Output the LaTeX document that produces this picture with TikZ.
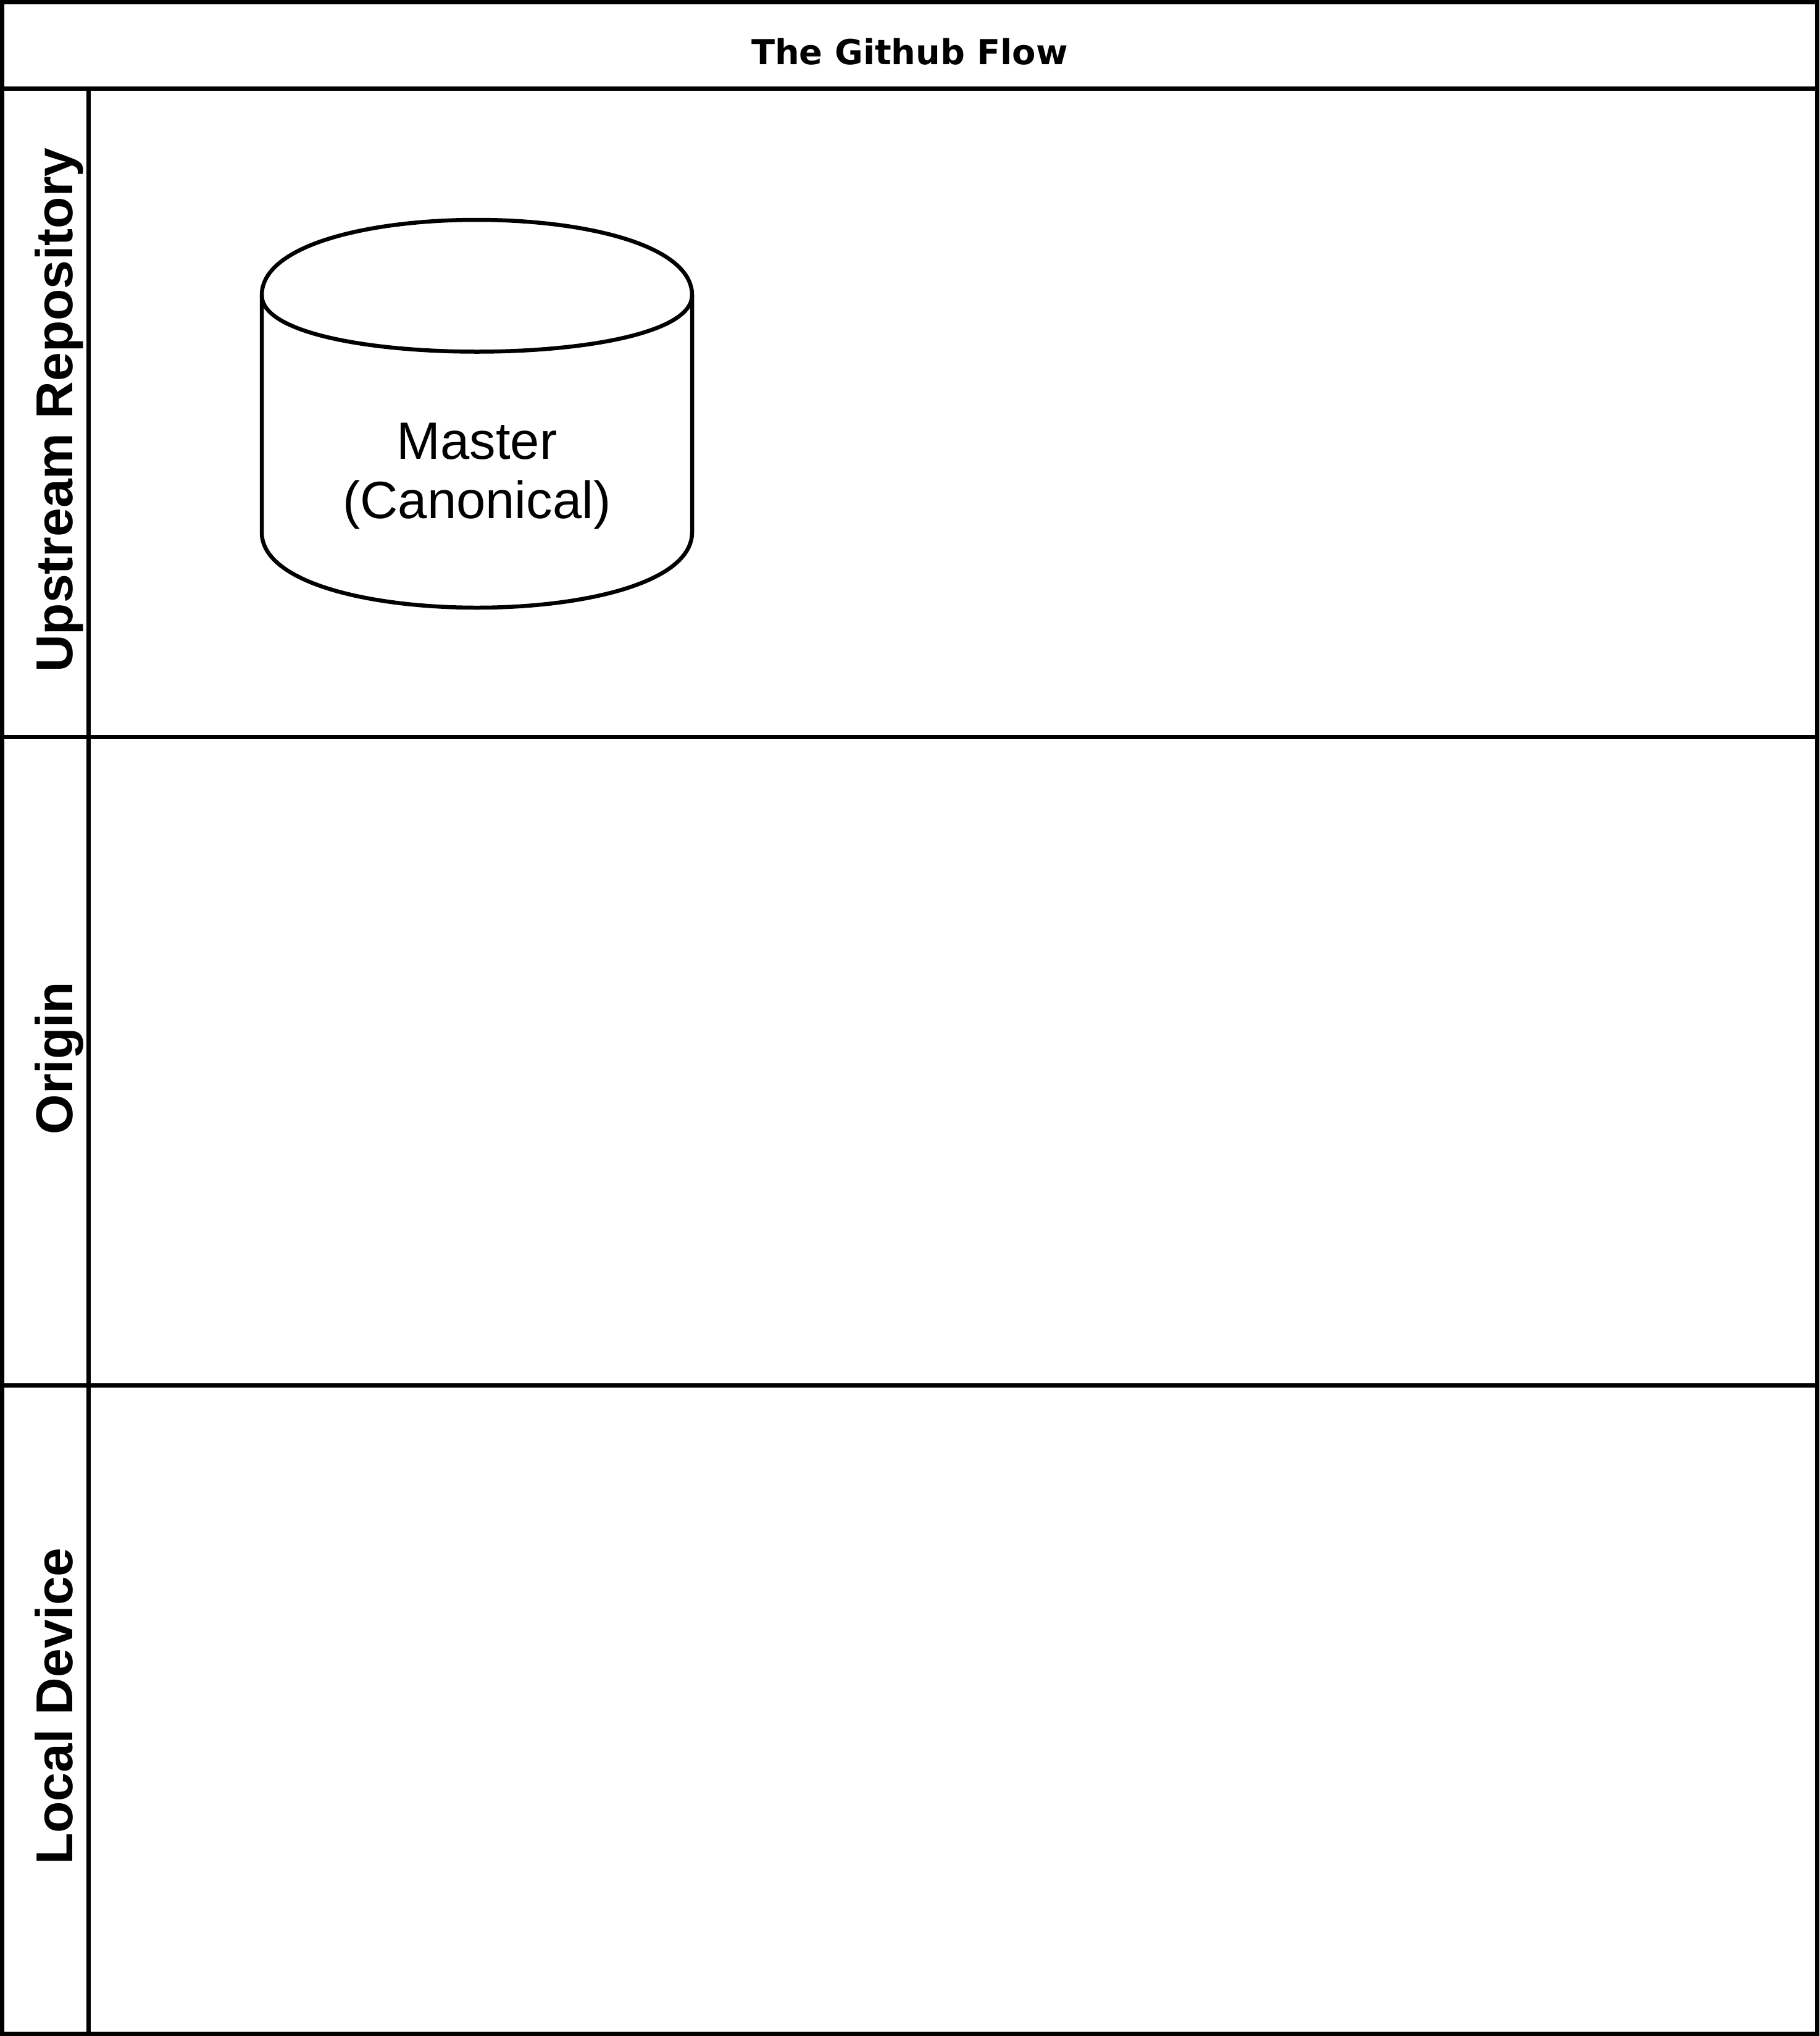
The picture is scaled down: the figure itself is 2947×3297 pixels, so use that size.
\documentclass[tikz,border=0pt]{standalone}
\usepackage{fontspec}
\newfontfamily\lsans{Liberation Sans}
\newfontfamily\dejasans{DejaVu Sans}
\begin{document}
\begin{tikzpicture}[x=1pt,y=-1pt,
  frame/.style={line width=7pt, draw=black, line cap=rect},
  cyl/.style={line width=6.5pt, draw=black, fill=white, line join=round},
  titletext/.style={font=\dejasans\bfseries\fontsize{55.8}{62}\selectfont, anchor=base, inner sep=0},
  lanetext/.style={font=\lsans\bfseries\fontsize{84}{96}\selectfont, rotate=90, anchor=base, inner sep=0},
  cyltext/.style={font=\lsans\fontsize{85}{96}\selectfont, anchor=base, inner sep=0}]
\useasboundingbox (0,0) rectangle (2947,3297);
\fill[white] (0,0) rectangle (2947,3297);
% frame
\draw[frame] (3.5,3.5) rectangle (2943.5,3293.5);
\draw[frame] (3.5,143.5) -- (2943.5,143.5);
\draw[frame] (143.5,143.5) -- (143.5,3293.5);
\draw[frame] (3.5,1193.5) -- (2943.5,1193.5);
\draw[frame] (3.5,2243.5) -- (2943.5,2243.5);
% title and lane labels
\node[titletext] (title) at (1473.5,105) {The Github Flow};
\node[lanetext] (upstream) at (117,664) {Upstream Repository};
\node[lanetext] (origin) at (117,1713.5) {Origin};
\node[lanetext] (local) at (117,2763) {Local Device};
% cylinder
\draw[cyl] (424,478) .. controls (424,315.33) and (1121,315.33) .. (1121,478)
  -- (1121,862) .. controls (1121,1024.67) and (424,1024.67) .. (424,862) -- cycle;
\draw[cyl, fill=none] (424,478) .. controls (424,600) and (1121,600) .. (1121,478);
\node[cyltext] (mastera) at (772.5,743) {Master};
\node[cyltext] (masterb) at (772.5,839) {(Canonical)};
\end{tikzpicture}
\end{document}
